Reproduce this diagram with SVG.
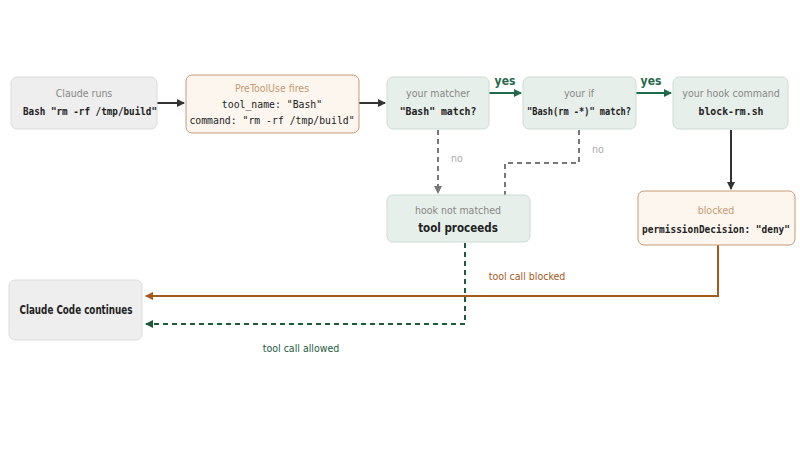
<svg xmlns="http://www.w3.org/2000/svg" width="800" height="450" viewBox="0 0 800 450">
<style>
.s{font-family:"DejaVu Sans Condensed","Open Sans",sans-serif;font-stretch:condensed;font-size:10.5px;text-anchor:middle}
.m{font-family:"DejaVu Sans Mono","Liberation Mono",monospace;font-size:9.8px;font-weight:bold;text-anchor:middle;fill:#222}
.b{font-family:"DejaVu Sans Condensed","Open Sans",sans-serif;font-stretch:condensed;font-size:11.5px;font-weight:bold;text-anchor:middle;fill:#222}
.g{fill:#eeeeee;stroke:#dcdcdc}
.o{fill:#fdf6ee;stroke:#c79a72}
.n{fill:#e6efe9;stroke:#ccdcd2}
.t{fill:#888}
</style>
<defs>
<marker id="ak" markerWidth="8" markerHeight="8" refX="7" refY="4" orient="auto" markerUnits="userSpaceOnUse"><path d="M0,0L8,4L0,8Z" fill="#333"/></marker>
<marker id="ag" markerWidth="8" markerHeight="8" refX="7" refY="4" orient="auto" markerUnits="userSpaceOnUse"><path d="M0,0L8,4L0,8Z" fill="#1f6a4a"/></marker>
<marker id="ay" markerWidth="8" markerHeight="8" refX="7" refY="4" orient="auto" markerUnits="userSpaceOnUse"><path d="M0,0L8,4L0,8Z" fill="#777"/></marker>
<marker id="ab" markerWidth="8" markerHeight="8" refX="7" refY="4" orient="auto" markerUnits="userSpaceOnUse"><path d="M0,0L8,4L0,8Z" fill="#a85a1c"/></marker>
<marker id="ad" markerWidth="8" markerHeight="8" refX="7" refY="4" orient="auto" markerUnits="userSpaceOnUse"><path d="M0,0L8,4L0,8Z" fill="#1e5a40"/></marker>
</defs>
<g id="connectors" fill="none" stroke-width="2">
<line x1="157" y1="103" x2="184" y2="103" stroke="#333" marker-end="url(#ak)"/>
<line x1="359" y1="103" x2="385" y2="103" stroke="#333" marker-end="url(#ak)"/>
<line x1="489" y1="93" x2="521" y2="93" stroke="#1f6a4a" marker-end="url(#ag)"/>
<line x1="636" y1="93" x2="671" y2="93" stroke="#1f6a4a" marker-end="url(#ag)"/>
<line x1="438" y1="130" x2="438" y2="193" stroke="#777" stroke-dasharray="5,4" marker-end="url(#ay)"/>
<polyline points="579,130 579,163 505,163 505,195" stroke="#777" stroke-dasharray="5,4"/>
<line x1="731" y1="130" x2="731" y2="189" stroke="#333" marker-end="url(#ak)"/>
<polyline points="718,245 718,296 146,296" stroke="#a85a1c" marker-end="url(#ab)"/>
<polyline points="465,243 465,324 146,324" stroke="#1e5a40" stroke-dasharray="5,4" marker-end="url(#ad)"/>
<text x="505" y="85" class="s" style="font-weight:bold;font-size:12px" fill="#1f6a4a">yes</text>
<text x="651" y="85" class="s" style="font-weight:bold;font-size:12px" fill="#1f6a4a">yes</text>
<text x="457" y="162" class="s" fill="#aaa">no</text>
<text x="598" y="153" class="s" fill="#aaa">no</text>
<text x="527" y="280" class="s" fill="#a85a1c">tool call blocked</text>
<text x="301" y="352" class="s" fill="#1e5a40">tool call allowed</text>
</g>
<g id="claude-runs"><rect x="11" y="77" width="146" height="52" rx="6" class="g"/>
<text x="84" y="97" class="s t">Claude runs</text><text x="90" y="115" class="m" textLength="134" lengthAdjust="spacingAndGlyphs">Bash "rm -rf /tmp/build"</text></g>
<g id="pretooluse"><rect x="186" y="75" width="173" height="58" rx="6" class="o"/>
<text x="272" y="92" class="s" fill="#c79a72">PreToolUse fires</text><text x="272" y="108" class="m" style="font-weight:normal">tool_name: "Bash"</text><text x="272" y="124" class="m" style="font-weight:normal">command: "rm -rf /tmp/build"</text></g>
<g id="matcher"><rect x="387" y="77" width="102" height="52" rx="6" class="n"/>
<text x="438" y="97" class="s t">your matcher</text><text x="438" y="115" class="m">"Bash" match?</text></g>
<g id="if"><rect x="523" y="77" width="113" height="52" rx="6" class="n"/>
<text x="579" y="97" class="s t">your if</text><text x="579" y="115" class="m" textLength="104" lengthAdjust="spacingAndGlyphs">"Bash(rm -*)" match?</text></g>
<g id="hook"><rect x="673" y="77" width="115" height="52" rx="6" class="n"/>
<text x="731" y="97" class="s t">your hook command</text><text x="731" y="115" class="m">block-rm.sh</text></g>
<g id="not-matched"><rect x="387" y="195" width="143" height="47" rx="6" class="n"/>
<text x="458" y="214" class="s t">hook not matched</text><text x="458" y="232" class="b">tool proceeds</text></g>
<g id="blocked"><rect x="638" y="191" width="157" height="54" rx="6" class="o"/>
<text x="716" y="214" class="s" fill="#c79a72">blocked</text><text x="716" y="233" class="m" textLength="148" lengthAdjust="spacingAndGlyphs">permissionDecision: "deny"</text></g>
<g id="continues"><rect x="9" y="280" width="133" height="60" rx="6" class="g"/>
<text x="76" y="314" class="b" textLength="113" lengthAdjust="spacingAndGlyphs">Claude Code continues</text></g>
</svg>
